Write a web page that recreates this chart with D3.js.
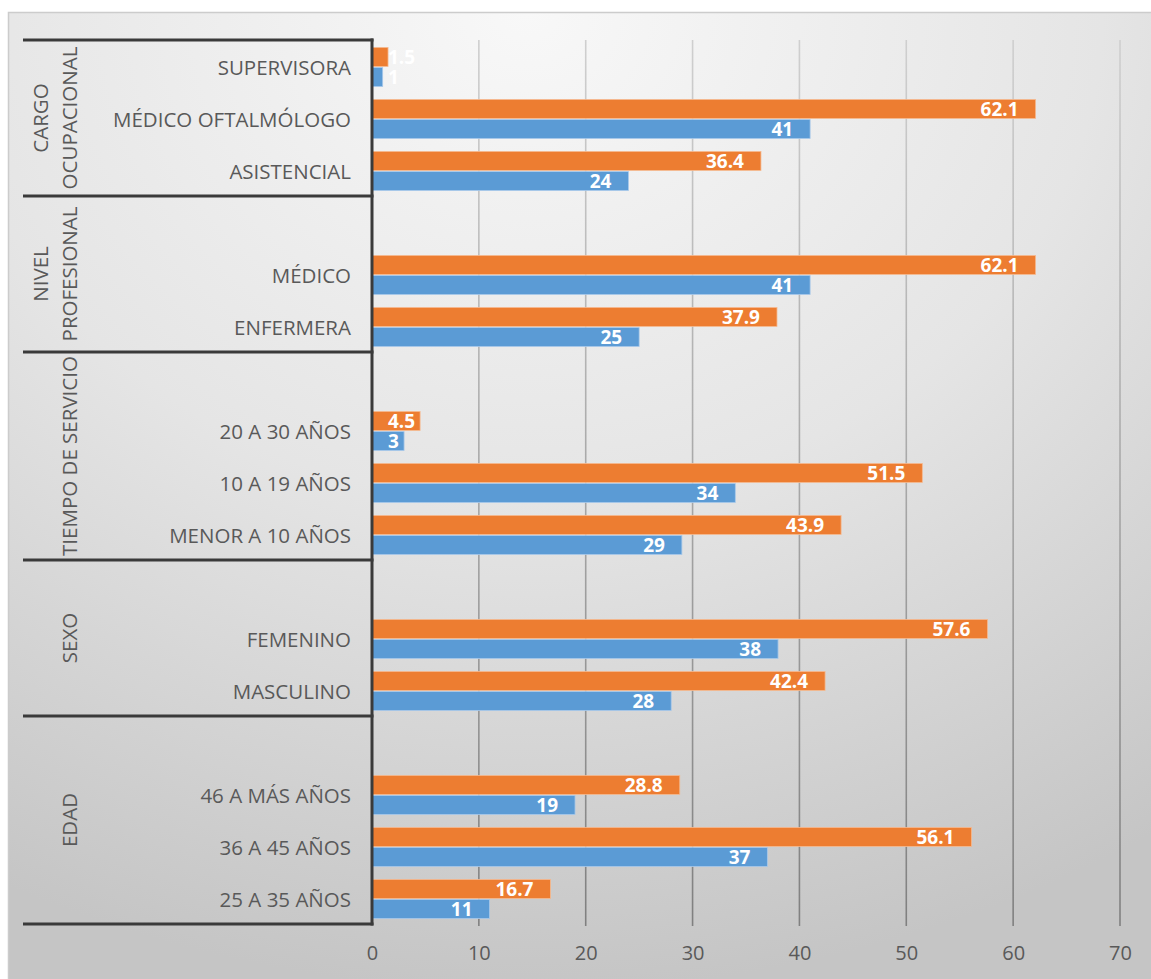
<!DOCTYPE html>
<html>
<head>
<meta charset="utf-8">
<script src="https://cdn.jsdelivr.net/npm/d3@7/dist/d3.min.js"></script>
<style>
  html, body { margin: 0; padding: 0; background: #fff; }
  svg { display: block; }
</style>
</head>
<body>
<svg id="chart" width="1151" height="979"></svg>
<script>
// ---- Data ----
const categories = ["SUPERVISORA", "MÉDICO OFTALMÓLOGO", "ASISTENCIAL",
  "", "MÉDICO", "ENFERMERA",
  "", "20 A 30 AÑOS", "10 A 19 AÑOS", "MENOR A 10 AÑOS",
  "", "FEMENINO", "MASCULINO",
  "", "46 A MÁS AÑOS", "36 A 45 AÑOS", "25 A 35 AÑOS"];
const seriesPercent = [1.5, 62.1, 36.4, null, 62.1, 37.9, null, 4.5, 51.5, 43.9, null, 57.6, 42.4, null, 28.8, 56.1, 16.7];
const seriesCount   = [1,   41,   24,   null, 41,   25,   null, 3,   34,   29,   null, 38,   28,   null, 19,   37,   11];
const groupLabels = [["CARGO", "OCUPACIONAL"], ["NIVEL", "PROFESIONAL"], ["TIEMPO DE SERVICIO"], ["SEXO"], ["EDAD"]];
const groupSizes = [3, 3, 4, 3, 4];
const xTicks = [0, 10, 20, 30, 40, 50, 60, 70];

// ---- Setup ----
(function () {
const svg = d3.select("#chart");
const W = 1151, H = 979;
const pLeft = 372, pRight = 1120, pTop = 40, pBottom = 924;
const fontFam = "'Open Sans', 'Noto Sans', sans-serif";

const defs = svg.append("defs");
const bg = defs.append("radialGradient").attr("id", "bg")
  .attr("cx", "45%").attr("cy", "0%").attr("r", "100%").attr("fx", "45%").attr("fy", "0%");
bg.append("stop").attr("offset", "0%").attr("stop-color", "#f8f8f8");
bg.append("stop").attr("offset", "50%").attr("stop-color", "#e5e5e5");
bg.append("stop").attr("offset", "100%").attr("stop-color", "#c5c5c5");

const gg = defs.append("linearGradient").attr("id", "grid")
  .attr("gradientUnits", "userSpaceOnUse").attr("x1", 0).attr("y1", pTop).attr("x2", 0).attr("y2", pBottom);
gg.append("stop").attr("offset", "0%").attr("stop-color", "#cfcfcf");
gg.append("stop").attr("offset", "100%").attr("stop-color", "#808080");

svg.append("rect").attr("width", W).attr("height", H).attr("fill", "#fff");
svg.append("rect").attr("x", 8.5).attr("y", 12.5).attr("width", W).attr("height", H)
  .attr("fill", "url(#bg)").attr("stroke", "#cccccc").attr("stroke-width", 1.5);

const x = d3.scaleLinear().domain([0, 70]).range([pLeft, pRight]);
const keys = d3.range(categories.length);
const y = d3.scaleBand().domain(keys).range([pTop, pBottom]).padding(0);
const inner = d3.scaleBand().domain(["pct", "cnt"]).range([7.5, 46.5]).paddingInner(0.06);

// Gridlines
svg.append("g").selectAll("line").data(xTicks.filter(d => d > 0)).join("line")
  .attr("x1", d => x(d)).attr("x2", d => x(d))
  .attr("y1", pTop).attr("y2", pBottom + 2)
  .attr("stroke", "url(#grid)").attr("stroke-width", 1.6);

// X axis labels
const xAxis = d3.axisBottom(x).tickValues(xTicks).tickSize(0).tickPadding(0);
const xa = svg.append("g").attr("transform", `translate(0, 946)`).call(xAxis);
xa.select(".domain").remove();
xa.selectAll("text").attr("font-family", fontFam).attr("font-size", 20)
  .attr("fill", "#595959").attr("dy", "0.71em");

// Bars
const colors = { pct: "#ED7D31", cnt: "#5B9BD5" };
const strokes = { pct: "#f6b98f", cnt: "#a9c9ea" };
const rows = keys.map(i => ({ i, pct: seriesPercent[i], cnt: seriesCount[i] }));
const barsG = svg.append("g");
const labelsG = svg.append("g");
["pct", "cnt"].forEach(k => {
  const data = rows.filter(r => r[k] != null);
  barsG.selectAll("rect." + k).data(data).join("rect").attr("class", k)
    .attr("x", x(0))
    .attr("y", d => y(d.i) + inner(k))
    .attr("width", d => x(d[k]) - x(0))
    .attr("height", inner.bandwidth())
    .attr("fill", colors[k])
    .attr("stroke", strokes[k]).attr("stroke-width", 0.8);
  labelsG.selectAll("text." + k).data(data).join("text").attr("class", k)
    .attr("y", d => y(d.i) + inner(k) + inner.bandwidth() / 2)
    .attr("dy", "0.36em")
    .attr("font-family", fontFam).attr("font-weight", "bold").attr("font-size", 19)
    .attr("fill", "#ffffff")
    .text(d => String(d[k]))
    .each(function (d) {
      const w = this.getComputedTextLength();
      let r = x(d[k]) - 17;
      if (r - w < pLeft + 16) r = pLeft + 16 + w;
      d3.select(this).attr("x", r).attr("text-anchor", "end");
    });
});

// Category labels
svg.append("g").selectAll("text").data(rows.filter(r => categories[r.i] !== "")).join("text")
  .attr("x", 351).attr("y", d => y(d.i) + y.bandwidth() / 2).attr("dy", "0.42em")
  .attr("text-anchor", "end")
  .attr("font-family", fontFam).attr("font-size", 20.5).attr("fill", "#595959")
  .text(d => categories[d.i]);

// Group table lines and labels
const lineColor = "#3a3a3a";
let start = 0;
const bounds = [pTop];
groupLabels.forEach((lines, gi) => {
  const size = groupSizes[gi];
  const y0 = y(start), y1 = y(start + size - 1) + y.bandwidth();
  bounds.push(y1);
  const cy = (y0 + y1) / 2;
  const n = lines.length;
  lines.forEach((t, j) => {
    const cx = n === 1 ? 70 : (j === 0 ? 41 : 70);
    svg.append("text")
      .attr("transform", `translate(${cx},${cy}) rotate(-90)`)
      .attr("text-anchor", "middle").attr("dy", "0.36em")
      .attr("font-family", fontFam).attr("font-size", 20.5).attr("fill", "#595959")
      .text(t);
  });
  start += size;
});
svg.append("g").selectAll("line").data(bounds).join("line")
  .attr("x1", 23).attr("x2", pLeft + 1.5)
  .attr("y1", d => d).attr("y2", d => d)
  .attr("stroke", lineColor).attr("stroke-width", 3);
svg.append("line").attr("x1", pLeft).attr("x2", pLeft).attr("y1", pTop - 1.5).attr("y2", pBottom + 1.5)
  .attr("stroke", lineColor).attr("stroke-width", 3);
})();
</script>
</body>
</html>
